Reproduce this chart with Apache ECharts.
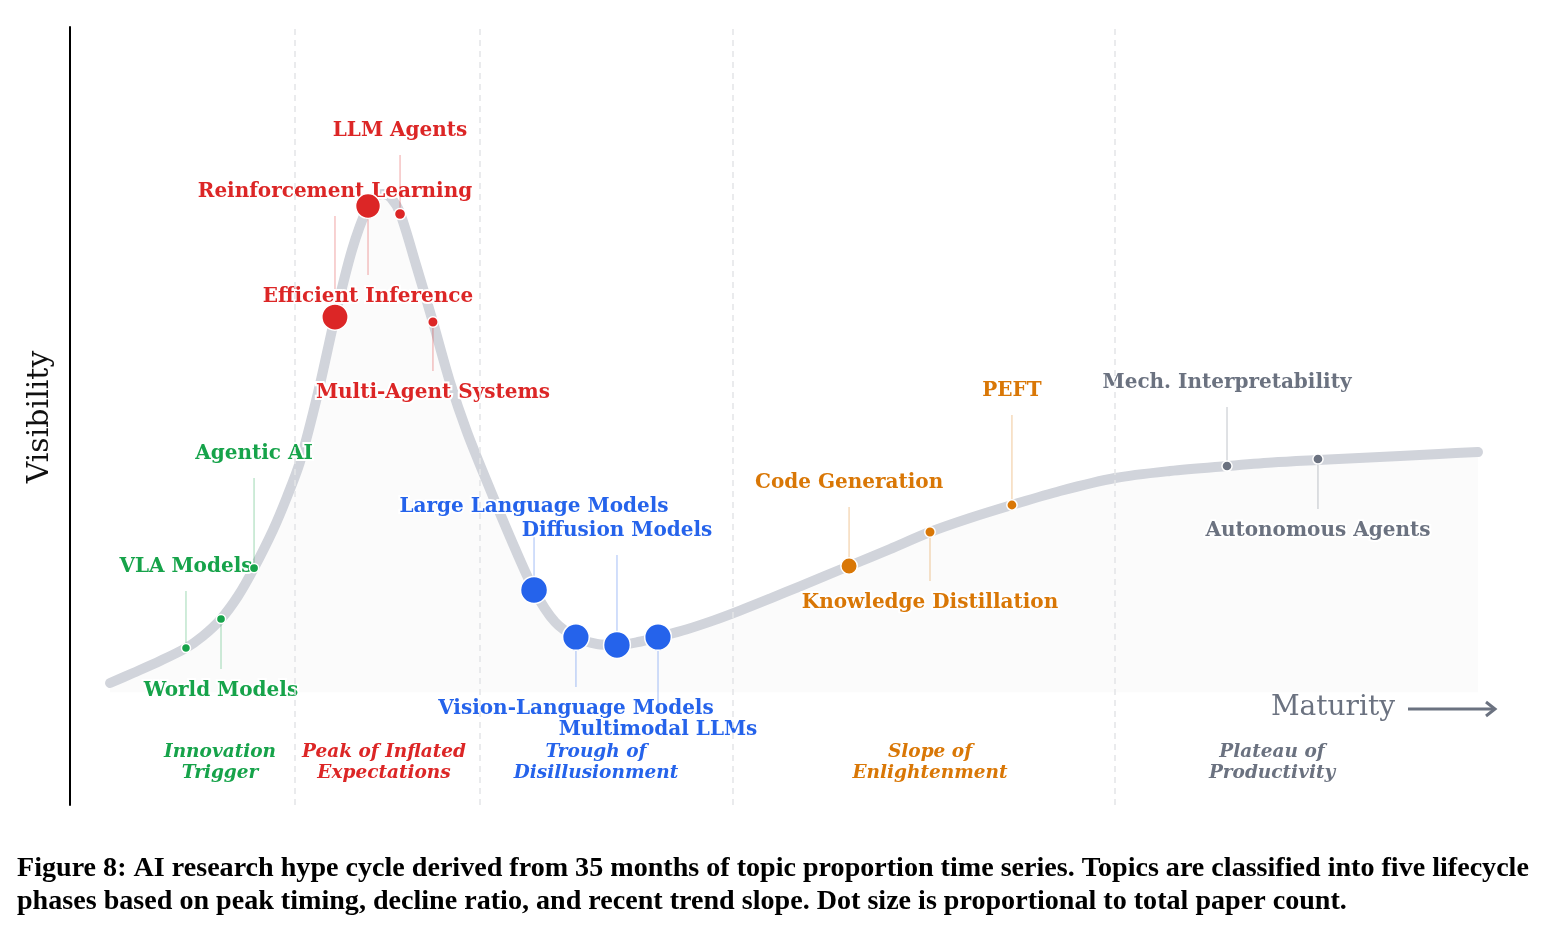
<!DOCTYPE html>
<html>
<head>
<meta charset="utf-8">
<title>AI research hype cycle</title>
<script src="https://cdn.jsdelivr.net/npm/echarts@6/dist/echarts.min.js"></script>
<style>
html, body { margin: 0; padding: 0; background: #fff; }
#hypeChart { width: 1545px; height: 925px; }
</style>
</head>
<body>
<div id="hypeChart"></div>
<script>
// hype curve (maturity 0-100, visibility)
const curveMaturity = [2.80, 4.41, 6.29, 8.11, 9.30, 10.56, 11.75, 12.87, 14.20, 15.17, 16.08, 17.34, 18.53, 19.72, 20.84, 21.40, 21.89, 22.45, 23.08, 24.20, 25.38, 26.57, 27.76, 29.16, 30.77, 32.45, 33.92, 35.38, 36.85, 38.25, 39.72, 41.12, 43.15, 44.97, 46.85, 48.95, 51.05, 54.48, 57.34, 60.14, 62.94, 65.87, 69.23, 73.08, 76.92, 80.91, 84.06, 87.27, 90.14, 93.01, 95.73, 98.46]
const curveVisibility = [1.18, 2.47, 4.01, 5.68, 7.22, 9.41, 12.36, 15.96, 20.85, 25.09, 29.59, 38.46, 48.22, 56.84, 62.49, 63.78, 64.03, 63.52, 61.59, 54.91, 47.58, 39.87, 33.44, 27.02, 19.95, 13.13, 9.02, 7.09, 6.19, 6.07, 6.45, 7.09, 8.10, 9.20, 10.49, 12.03, 13.61, 16.22, 18.40, 20.59, 22.39, 24.06, 25.86, 27.53, 28.43, 29.07, 29.52, 29.84, 30.10, 30.36, 30.62, 30.87]

const phaseNames = ['Innovation\nTrigger', 'Peak of Inflated\nExpectations', 'Trough of\nDisillusionment', 'Slope of\nEnlightenment', 'Plateau of\nProductivity']
const phaseColors = ['#16a34a', '#dc2626', '#2563eb', '#d97706', '#6b7280']
const phaseCenters = [10.49, 21.96, 36.78, 60.14, 84.06]
const phaseBounds = [15.73, 28.67, 46.36, 73.08]

const topicNames = ['VLA Models', 'World Models', 'Agentic AI', 'Reinforcement Learning', 'Efficient Inference', 'LLM Agents', 'Multi-Agent Systems', 'Large Language Models', 'Vision-Language Models', 'Diffusion Models', 'Multimodal LLMs', 'Code Generation', 'Knowledge Distillation', 'PEFT', 'Mech. Interpretability', 'Autonomous Agents']
const topicPhase = [0, 0, 0, 1, 1, 1, 1, 2, 2, 2, 2, 3, 3, 3, 4, 4]
const topicMaturity = [8.11, 10.56, 12.87, 18.53, 20.84, 23.08, 25.38, 32.45, 35.38, 38.25, 41.12, 54.48, 60.14, 65.87, 80.91, 87.27]
const topicVisibility = [5.68, 9.41, 15.96, 48.22, 62.49, 61.46, 47.58, 13.13, 7.09, 6.07, 7.09, 16.22, 20.59, 24.06, 29.07, 29.97]
const topicPapers = [300, 320, 350, 5200, 4800, 900, 700, 5400, 5300, 5350, 5300, 2400, 700, 650, 600, 620]

// leader length in px, negative means the label sits above the dot
const leaderLen = [-57, 50, -90, -101, 69, -59, 49, -59, 50, -90, 71, -59, 49, -90, -59, 50]

const captionLines = [
  'Figure 8: AI research hype cycle derived from 35 months of topic proportion time series. Topics are classified into five lifecycle',
  'phases based on peak timing, decline ratio, and recent trend slope. Dot size is proportional to total paper count.'
]

const labelFont = 'bold 20px "DejaVu Serif"'
const phaseFont = 'italic bold 18.5px "DejaVu Serif"'
const phaseLabelLevel = -9.0

function fade(hex, a) {
  const n = parseInt(hex.slice(1), 16)
  return 'rgba(' + (n >> 16) + ',' + ((n >> 8) & 255) + ',' + (n & 255) + ',' + a + ')'
}

function captionSize() {
  const ctx = document.createElement('canvas').getContext('2d')
  ctx.font = 'bold 100px "Liberation Serif"'
  const w = ctx.measureText(captionLines[0]).width
  return Math.round(100 * 1511 / w * 10) / 10
}

const maxPapers = Math.max(...topicPapers)

const chart = echarts.init(document.getElementById('hypeChart'))
const capSize = captionSize()

chart.setOption({
  animation: false,
  backgroundColor: '#fff',
  grid: { left: 70, right: 45, top: 27, bottom: 120 },
  xAxis: { type: 'value', min: 0, max: 100, show: false },
  yAxis: {
    type: 'value',
    min: -14.5,
    max: 85.5,
    axisLine: { show: true, lineStyle: { color: '#000', width: 2 } },
    axisTick: { show: false },
    axisLabel: { show: false },
    splitLine: { show: false }
  },
  graphic: [
    {
      type: 'text', x: 40, y: 417, rotation: Math.PI / 2,
      style: { text: 'Visibility', font: '30px "DejaVu Serif"', fill: '#111', align: 'center', verticalAlign: 'middle' }
    },
    {
      type: 'text', x: 1395, y: 708,
      style: { text: 'Maturity', font: '28px "DejaVu Serif"', fill: '#6b7280', align: 'right', verticalAlign: 'middle' }
    },
    { type: 'line', shape: { x1: 1408, y1: 709, x2: 1495, y2: 709 }, style: { stroke: '#6b7280', lineWidth: 3 } },
    { type: 'polyline', shape: { points: [[1486, 702], [1495, 709], [1486, 716]] }, style: { stroke: '#6b7280', lineWidth: 3, fill: null } },
    {
      type: 'text', x: 17, y: 869,
      style: { text: captionLines[0], font: 'bold ' + capSize + 'px "Liberation Serif"', fill: '#000', verticalAlign: 'middle' }
    },
    {
      type: 'text', x: 17, y: 902,
      style: { text: captionLines[1], font: 'bold ' + capSize + 'px "Liberation Serif"', fill: '#000', verticalAlign: 'middle' }
    }
  ],
  series: [
    {
      // phase dividers
      type: 'line',
      data: [],
      z: 0,
      markLine: {
        silent: true,
        symbol: ['none', 'none'],
        label: { show: false },
        lineStyle: { color: '#e3e5e8', type: [6, 5], width: 1.5 },
        data: phaseBounds.map(v => ({ xAxis: v }))
      }
    },
    {
      type: 'line',
      data: curveMaturity.map((x, i) => [x, curveVisibility[i]]),
      smooth: 0.3,
      showSymbol: false,
      silent: true,
      z: 1,
      lineStyle: { color: '#d1d4db', width: 10, cap: 'round', join: 'round' },
      areaStyle: { color: '#fbfbfb', opacity: 1 }
    },
    {
      type: 'custom',
      z: 3,
      silent: true,
      data: phaseCenters.map(x => [x, phaseLabelLevel]),
      renderItem: function(params, api) {
        const pt = api.coord([api.value(0), api.value(1)])
        const i = params.dataIndex
        return {
          type: 'text',
          style: {
            x: pt[0], y: pt[1], text: phaseNames[i], fill: phaseColors[i],
            font: phaseFont, align: 'center', verticalAlign: 'middle', lineHeight: 21
          }
        }
      }
    },
    {
      type: 'custom',
      z: 3,
      silent: true,
      data: topicMaturity.map((x, i) => [x, topicVisibility[i]]),
      renderItem: function(params, api) {
        const i = params.dataIndex
        const pt = api.coord([api.value(0), api.value(1)])
        const len = leaderLen[i]
        const end = pt[1] + len
        const color = phaseColors[topicPhase[i]]
        return {
          type: 'group',
          children: [
            {
              type: 'line',
              shape: { x1: pt[0], y1: pt[1], x2: pt[0], y2: end },
              style: { stroke: fade(color, 0.35), lineWidth: 1.2 }
            },
            {
              type: 'text',
              style: {
                x: pt[0], y: end + (len < 0 ? -24 : 22), text: topicNames[i], fill: color,
                font: labelFont, align: 'center', verticalAlign: 'middle',
                stroke: '#fff', lineWidth: 4
              }
            }
          ]
        }
      }
    },
    {
      type: 'scatter',
      z: 5,
      silent: true,
      data: topicMaturity.map((x, i) => ({
        value: [x, topicVisibility[i]],
        symbolSize: 8 + 19 * topicPapers[i] / maxPapers,
        itemStyle: { color: phaseColors[topicPhase[i]] }
      })),
      itemStyle: { borderColor: '#fff', borderWidth: 1.5, opacity: 1 }
    }
  ]
})

window.addEventListener('resize', () => {
  chart.resize()
})
</script>
</body>
</html>
